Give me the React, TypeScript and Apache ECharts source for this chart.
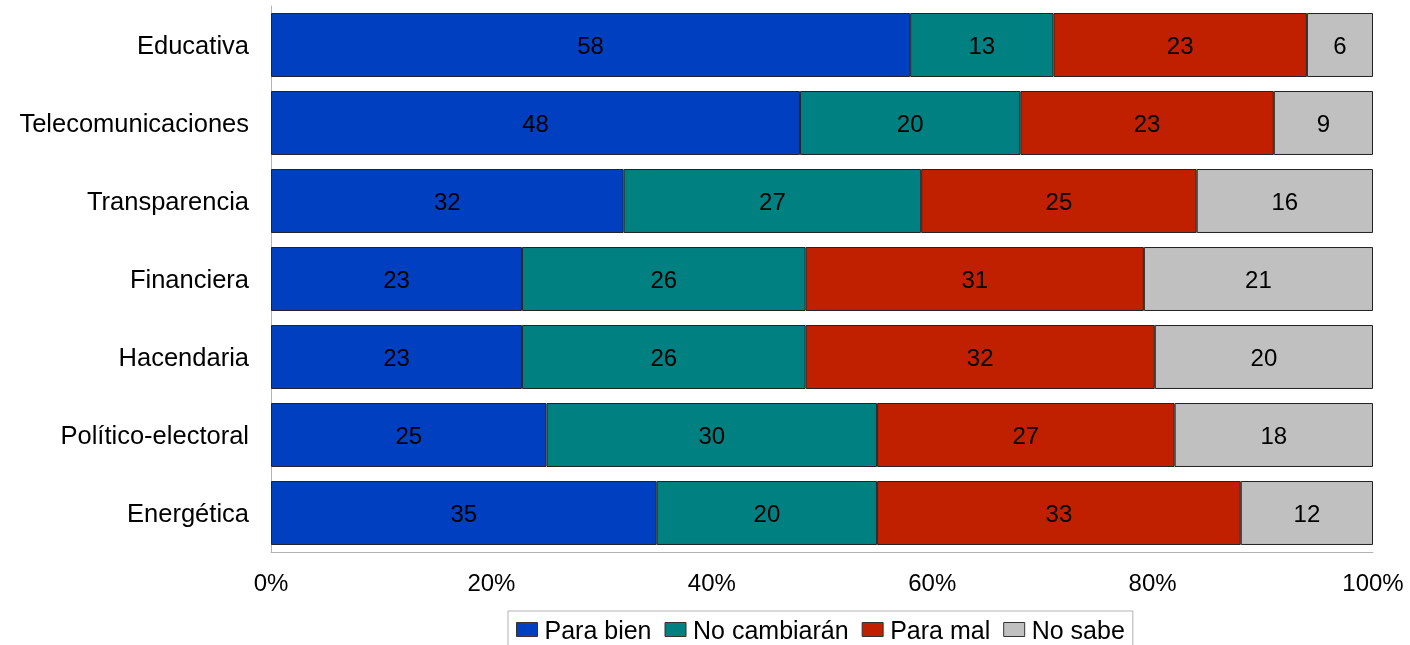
import React, { useEffect, useRef } from "react";
import * as echarts from "echarts";

const categories = [
  "Educativa",
  "Telecomunicaciones",
  "Transparencia",
  "Financiera",
  "Hacendaria",
  "Político-electoral",
  "Energética",
];
const seriesNames = ["Para bien", "No cambiarán", "Para mal", "No sabe"];
const paraBien = [58, 48, 32, 23, 23, 25, 35];
const noCambiaran = [13, 20, 27, 26, 26, 30, 20];
const paraMal = [23, 23, 25, 31, 32, 27, 33];
const noSabe = [6, 9, 16, 21, 20, 18, 12];
const colors = ["#0040C0", "#008080", "#C02000", "#C0C0C0"];

const FONT = "'Liberation Sans', Arial, sans-serif";

export default function App() {
  const ref = useRef<HTMLDivElement>(null);
  useEffect(() => {
    if (!ref.current) return;
    const chart = echarts.init(ref.current, null, { renderer: "svg" });
    const raw = [paraBien, noCambiaran, paraMal, noSabe];
    const totals = categories.map((_, i) => raw.reduce((s, arr) => s + arr[i], 0));
    const series = raw.map((arr, si) => ({
      name: seriesNames[si],
      type: "bar",
      stack: "total",
      barCategoryGap: "18%",
      data: arr.map((v, i) => (v / totals[i]) * 100),
      itemStyle: { color: colors[si], borderColor: "#222", borderWidth: 1 },
      label: {
        show: true,
        position: "inside",
        fontSize: 24,
        fontFamily: FONT,
        color: "#000",
        formatter: (p: any) => String(raw[si][p.dataIndex]),
      },
    }));
    chart.setOption({
      animation: false,
      textStyle: { fontFamily: FONT },
      grid: { left: 271, right: 37, top: 6, bottom: 93, containLabel: false },
      xAxis: {
        type: "value",
        min: 0,
        max: 100,
        interval: 20,
        axisLabel: {
          formatter: "{value}%",
          fontSize: 24,
          fontFamily: FONT,
          color: "#000",
          margin: 18,
        },
        axisLine: { show: true, lineStyle: { color: "#b3b3b3", width: 1 } },
        axisTick: { show: false },
        splitLine: { show: false },
      },
      yAxis: {
        type: "category",
        inverse: true,
        data: categories,
        axisLabel: { fontSize: 25.5, fontFamily: FONT, color: "#000", margin: 22 },
        axisLine: { show: true, lineStyle: { color: "#b3b3b3", width: 1 } },
        axisTick: { show: false },
      },
      legend: {
        data: seriesNames,
        left: 508,
        top: 611,
        padding: [6, 8, 8, 8],
        borderColor: "#b3b3b3",
        borderWidth: 1,
        itemWidth: 21,
        itemHeight: 14,
        itemGap: 13,
        icon: "rect",
        itemStyle: { borderColor: "#333", borderWidth: 1 },
        textStyle: { fontSize: 25, fontFamily: FONT, color: "#000", padding: [0, 0, 0, 2] },
      },
      series,
    });
    return () => chart.dispose();
  }, []);
  return (
    <div
      ref={ref}
      style={{ position: "fixed", left: 0, top: 0, width: 1410, height: 645 }}
    />
  );
}
